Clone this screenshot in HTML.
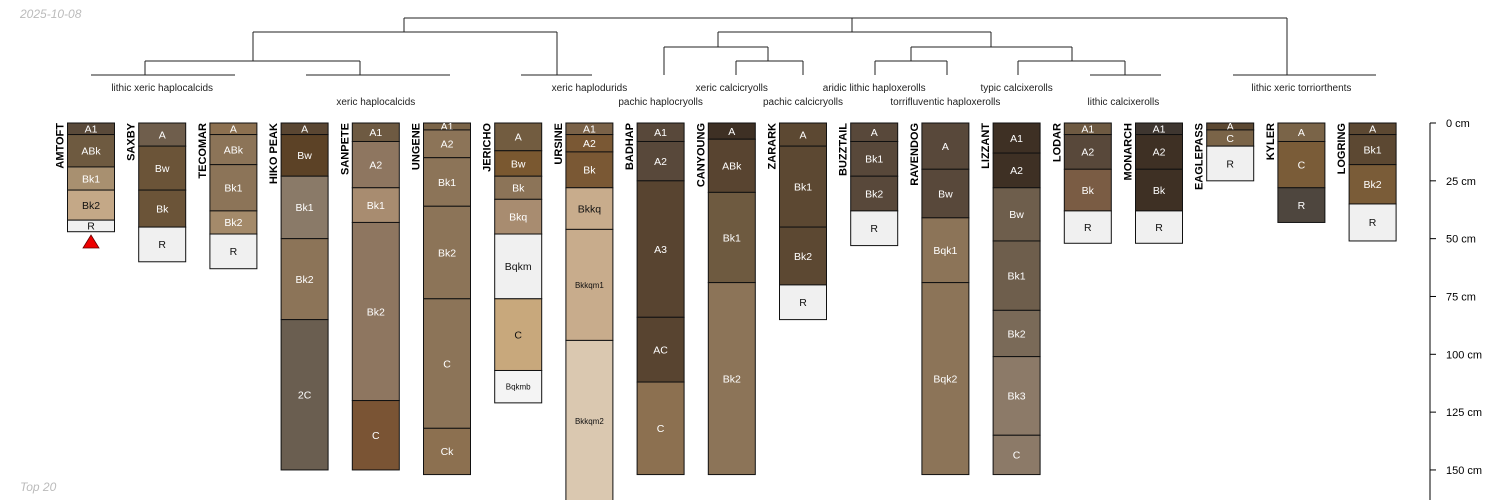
<!DOCTYPE html>
<html><head><meta charset="utf-8">
<style>
html,body{margin:0;padding:0;background:#fff;}
svg{display:block;font-family:"Liberation Sans",sans-serif;}
</style></head>
<body>
<svg id="chart" width="1500" height="500" viewBox="0 0 1500 500">
<text x="20" y="18" font-size="12" font-style="italic" fill="#bbb">2025-10-08</text>
<text x="20" y="491" font-size="12" font-style="italic" fill="#bbb">Top 20</text>
<g id="dendro"></g>
<g id="profiles"></g>
<g id="axis"></g>
</svg>
<script>
const profileNames = ["AMTOFT","SAXBY","TECOMAR","HIKO PEAK","SANPETE","UNGENE","JERICHO","URSINE","BADHAP","CANYOUNG","ZARARK","BUZZTAIL","RAVENDOG","LIZZANT","LODAR","MONARCH","EAGLEPASS","KYLER","LOGRING"];
const horizonNames = [
 ["A1","ABk","Bk1","Bk2","R"],
 ["A","Bw","Bk","R"],
 ["A","ABk","Bk1","Bk2","R"],
 ["A","Bw","Bk1","Bk2","2C"],
 ["A1","A2","Bk1","Bk2","C"],
 ["A1","A2","Bk1","Bk2","C","Ck"],
 ["A","Bw","Bk","Bkq","Bqkm","C","Bqkmb"],
 ["A1","A2","Bk","Bkkq","Bkkqm1","Bkkqm2"],
 ["A1","A2","A3","AC","C"],
 ["A","ABk","Bk1","Bk2"],
 ["A","Bk1","Bk2","R"],
 ["A","Bk1","Bk2","R"],
 ["A","Bw","Bqk1","Bqk2"],
 ["A1","A2","Bw","Bk1","Bk2","Bk3","C"],
 ["A1","A2","Bk","R"],
 ["A1","A2","Bk","R"],
 ["A","C","R"],
 ["A","C","R"],
 ["A","Bk1","Bk2","R"]
];
const horizonBottoms = [
 [5,19,29,42,47],
 [10,29,45,60],
 [5,18,38,48,63],
 [5,23,50,85,150],
 [8,28,43,120,150],
 [3,15,36,76,132,152],
 [12,23,33,48,76,107,121],
 [5,12.5,28,46,94,165],
 [8,25,84,112,152],
 [7,30,69,152],
 [10,45,70,85],
 [8,23,38,53],
 [20,41,69,152],
 [13,28,51,81,101,135,152],
 [5,20,38,52],
 [5,20,38,52],
 [3,10,25],
 [8,28,43],
 [5,18,35,51]
];
const horizonColors = [
 ["#5a4a3a","#6e5a40","#a89070","#c4a887","#f0f0f0"],
 ["#6f5e4c","#6b5438","#6b5438","#f0f0f0"],
 ["#8c7050","#8c7458","#8c7458","#a48a6a","#f0f0f0"],
 ["#5a4632","#5c4226","#8a7a68","#8c7458","#6a5e50"],
 ["#6e5a42","#8e7660","#a88c70","#8e7660","#7a5434"],
 ["#7a6448","#8c7458","#8c7458","#8c7458","#8c7458","#8c7050"],
 ["#725c40","#7a5830","#8c7458","#a88c70","#f0f0f0","#c8a87c","#f4f4f4"],
 ["#7a6248","#7a5834","#7a5834","#c8ac8c","#c8ac8c","#dac8b0"],
 ["#58483a","#58483a","#584430","#584430","#8c7050"],
 ["#3e3024","#584430","#6e5a40","#8c7458"],
 ["#5c4832","#5c4832","#5c4832","#f0f0f0"],
 ["#58483a","#58483a","#58483a","#f0f0f0"],
 ["#58483a","#58483a","#8c7458","#8c7458"],
 ["#3e3024","#3e3024","#6e5e4c","#6e5e4c","#7a6a58","#8c7a68","#8c7a68"],
 ["#6e5a42","#58483a","#7a5c44","#f0f0f0"],
 ["#3e3630","#3e3024","#3e3024","#f0f0f0"],
 ["#5c4832","#7a6448","#f0f0f0"],
 ["#7a6448","#7a5c38","#4e463e"],
 ["#5c4832","#5c4832","#7a5c38","#f0f0f0"]
];
const depthTicks = [0,25,50,75,100,125,150];
const taxonLabels = ["lithic xeric haplocalcids","xeric haplocalcids","xeric haplodurids","pachic haplocryolls","xeric calcicryolls","pachic calcicryolls","aridic lithic haploxerolls","torrifluventic haploxerolls","typic calcixerolls","lithic calcixerolls","lithic xeric torriorthents"];
const taxonPositions = [1,4,7,8,9,10,11,12,13,14.5,17];

const NS="http://www.w3.org/2000/svg";
const x0=91, dx=71.2, topY=123, pxcm=2.313, hw=23.5;
const xs=i=>x0+i*dx;
const ys=d=>topY+d*pxcm;
function mk(tag,attrs,parent){const e=document.createElementNS(NS,tag);for(const k in attrs)e.setAttribute(k,attrs[k]);parent.appendChild(e);return e;}
function lum(c){const r=parseInt(c.substr(1,2),16),g=parseInt(c.substr(3,2),16),b=parseInt(c.substr(5,2),16);return 0.299*r+0.587*g+0.114*b;}

const P=document.getElementById('profiles');
profileNames.forEach((name,i)=>{
  const cx=xs(i);
  const g=mk('g',{},P);
  
  
  let prev=0;
  horizonBottoms[i].forEach((b,j)=>{
    const y1=ys(prev), y2=Math.min(ys(b),502);
    const r=mk('rect',{x:cx-hw,y:y1,width:hw*2,height:y2-y1,fill:horizonColors[i][j],stroke:'#111','stroke-width':1},g);
    
    
    const hn=horizonNames[i][j];
    const fs=hn.length>4?8:10.5;
    const ty=Math.min((y1+y2)/2, 495);
    const t=mk('text',{x:cx,y:ty+fs*0.36,'font-size':fs,'text-anchor':'middle',fill:lum(horizonColors[i][j])>150?'#111':'#fff'},g);
    t.textContent=hn;
    
    
    prev=b;
  });
  const nt=mk('text',{x:0,y:0,'font-size':11,'font-weight':'bold','text-anchor':'end',fill:'#000',transform:`translate(${cx-hw-4},${topY}) rotate(-90)`},g);
  nt.textContent=name;
  
  
});
const tri=mk('polygon',{points:`${xs(0)-8},248 ${xs(0)+8},248 ${xs(0)},235`,fill:'#e00',stroke:'#600','stroke-width':0.8},P);



const A=document.getElementById('axis');
const ax=1430;
const al=mk('line',{x1:ax,y1:topY,x2:ax,y2:500,stroke:'#000','stroke-width':1},A);


depthTicks.forEach(d=>{
  const tl=mk('line',{x1:ax,y1:ys(d),x2:ax+6,y2:ys(d),stroke:'#000'},A);
  
  
  const tt=mk('text',{x:ax+16,y:ys(d)+4,'font-size':11,fill:'#000'},A);
  tt.textContent=d+' cm';
  
  
});

const D=document.getElementById('dendro');
const segs=[
 [404,18,1287,18],[404,18,404,32],[852,18,852,32],[1287,18,1287,75],
 [253,32,557,32],[253,32,253,61],[557,32,557,75],
 [145,61,360,61],[145,61,145,75],[360,61,360,75],
 [718,32,991,32],[718,32,718,47],[991,32,991,47],
 [664,47,768,47],[664,47,664,75],[768,47,768,61],
 [736,61,803,61],[736,61,736,75],[803,61,803,75],
 [911,47,1072,47],[911,47,911,61],[1072,47,1072,61],
 [875,61,947,61],[875,61,875,75],[947,61,947,75],
 [1018,61,1125,61],[1018,61,1018,75],[1125,61,1125,75],
 [91,75,235,75],[306,75,450,75],[521,75,592,75],[1090,75,1161,75],[1233,75,1376,75]
];
segs.forEach(s=>{
  const l=mk('line',{x1:s[0],y1:s[1],x2:s[2],y2:s[3],stroke:'#222','stroke-width':1},D);
  
  
});
taxonLabels.forEach((lab,k)=>{
  const row=[0,1,0,1,0,1,0,1,0,1,0][k];
  const t=mk('text',{x:xs(taxonPositions[k]),y:row?105:91,'font-size':10,'text-anchor':'middle',fill:'#222'},D);
  t.textContent=lab;
  
  
});
</script>
</body></html>
